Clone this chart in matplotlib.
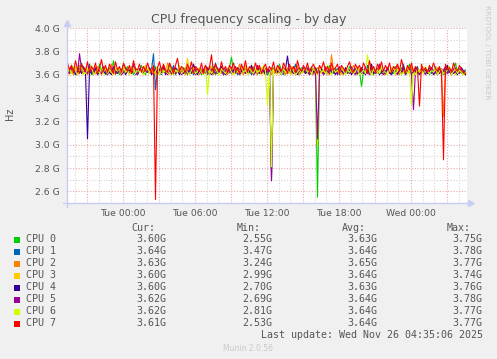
import datetime as dt
import numpy as np
import pandas as pd
import matplotlib
matplotlib.use("Agg")
import matplotlib.pyplot as plt
from matplotlib.patches import Rectangle

# values in GHz, one sample every 10 minutes starting Mon 19:25
cpu0 = [3.64, 3.61, 3.68, 3.62, 3.60, 3.66, 3.63, 3.70, 3.61, 3.64, 3.62, 3.67, 3.60, 3.63, 3.65, 3.61, 3.69, 3.62, 3.64, 3.60,
        3.63, 3.66, 3.61, 3.72, 3.62, 3.64, 3.60, 3.65, 3.63, 3.61, 3.67, 3.62, 3.64, 3.60, 3.66, 3.61, 3.63, 3.68, 3.62, 3.60,
        3.65, 3.62, 3.64, 3.61, 3.67, 3.63, 3.60, 3.66, 3.62, 3.64, 3.61, 3.69, 3.63, 3.60, 3.65, 3.62, 3.64, 3.61, 3.66, 3.63,
        3.60, 3.64, 3.62, 3.68, 3.61, 3.63, 3.65, 3.60, 3.62, 3.66, 3.64, 3.61, 3.63, 3.67, 3.60, 3.62, 3.65, 3.63, 3.61, 3.64,
        3.62, 3.66, 3.75, 3.63, 3.61, 3.64, 3.60, 3.67, 3.62, 3.65, 3.63, 3.61, 3.68, 3.62, 3.64, 3.60, 3.66, 3.63, 3.61, 3.65,
        3.62, 3.60, 3.64, 3.66, 3.61, 3.63, 3.69, 3.62, 3.64, 3.60, 3.65, 3.63, 3.61, 3.67, 3.62, 3.64, 3.60, 3.66, 3.63, 3.61,
        3.64, 3.62, 3.67, 3.60, 3.63, 2.55, 3.61, 3.65, 3.62, 3.64, 3.60, 3.68, 3.63, 3.61, 3.66, 3.62, 3.64, 3.60, 3.65, 3.63,
        3.61, 3.67, 3.62, 3.64, 3.60, 3.66, 3.63, 3.50, 3.62, 3.65, 3.61, 3.63, 3.68, 3.60, 3.64, 3.62, 3.66, 3.61, 3.63, 3.60,
        3.65, 3.62, 3.64, 3.61, 3.67, 3.63, 3.60, 3.66, 3.62, 3.64, 3.61, 3.69, 3.62, 3.63, 3.60, 3.65, 3.62, 3.64, 3.61, 3.66,
        3.63, 3.60, 3.64, 3.62, 3.67, 3.61, 3.63, 3.65, 3.60, 3.62, 3.66, 3.63, 3.61, 3.64, 3.70, 3.62, 3.63, 3.61, 3.62, 3.60]
cpu1 = [3.62, 3.65, 3.61, 3.63, 3.67, 3.60, 3.64, 3.62, 3.66, 3.61, 3.63, 3.69, 3.62, 3.60, 3.65, 3.63, 3.61, 3.64, 3.67, 3.62,
        3.60, 3.64, 3.62, 3.66, 3.61, 3.63, 3.65, 3.60, 3.68, 3.62, 3.64, 3.61, 3.63, 3.66, 3.60, 3.62, 3.65, 3.63, 3.61, 3.67,
        3.63, 3.61, 3.64, 3.78, 3.47, 3.65, 3.62, 3.60, 3.66, 3.63, 3.61, 3.64, 3.62, 3.68, 3.60, 3.63, 3.65, 3.61, 3.62, 3.66,
        3.64, 3.61, 3.63, 3.60, 3.67, 3.62, 3.65, 3.63, 3.61, 3.64, 3.60, 3.66, 3.62, 3.63, 3.70, 3.61, 3.64, 3.62, 3.60, 3.65,
        3.63, 3.61, 3.66, 3.62, 3.64, 3.60, 3.65, 3.63, 3.61, 3.68, 3.62, 3.64, 3.60, 3.66, 3.63, 3.61, 3.65, 3.62, 3.64, 3.61,
        3.60, 3.63, 3.66, 3.62, 3.64, 3.61, 3.67, 3.63, 3.60, 3.65, 3.62, 3.64, 3.61, 3.63, 3.69, 3.62, 3.60, 3.64, 3.66, 3.61,
        3.63, 3.65, 3.62, 3.60, 3.64, 3.61, 3.66, 3.63, 3.62, 3.67, 3.60, 3.64, 3.62, 3.65, 3.61, 3.63, 3.60, 3.66, 3.62, 3.64,
        3.61, 3.63, 3.67, 3.62, 3.60, 3.65, 3.63, 3.61, 3.64, 3.62, 3.68, 3.60, 3.63, 3.65, 3.61, 3.62, 3.66, 3.64, 3.60, 3.63,
        3.65, 3.62, 3.60, 3.64, 3.61, 3.66, 3.63, 3.62, 3.69, 3.60, 3.64, 3.62, 3.65, 3.61, 3.63, 3.67, 3.60, 3.62, 3.64, 3.61,
        3.63, 3.66, 3.61, 3.64, 3.62, 3.60, 3.65, 3.63, 3.61, 3.67, 3.62, 3.64, 3.60, 3.63, 3.65, 3.61, 3.62, 3.66, 3.63, 3.64]
cpu2 = [3.61, 3.66, 3.63, 3.60, 3.65, 3.62, 3.68, 3.61, 3.64, 3.63, 3.60, 3.66, 3.62, 3.64, 3.61, 3.67, 3.63, 3.60, 3.65, 3.62,
        3.64, 3.61, 3.69, 3.63, 3.60, 3.65, 3.62, 3.64, 3.61, 3.66, 3.63, 3.60, 3.67, 3.62, 3.64, 3.61, 3.65, 3.63, 3.60, 3.68,
        3.62, 3.64, 3.61, 3.66, 3.63, 3.60, 3.65, 3.62, 3.64, 3.61, 3.70, 3.63, 3.60, 3.66, 3.62, 3.64, 3.61, 3.65, 3.63, 3.60,
        3.66, 3.62, 3.64, 3.61, 3.67, 3.63, 3.60, 3.65, 3.62, 3.64, 3.61, 3.68, 3.63, 3.60, 3.66, 3.62, 3.64, 3.61, 3.65, 3.63,
        3.60, 3.64, 3.62, 3.66, 3.61, 3.63, 3.69, 3.62, 3.60, 3.65, 3.63, 3.61, 3.64, 3.67, 3.62, 3.60, 3.65, 3.63, 3.61, 3.66,
        3.62, 3.64, 3.60, 3.65, 3.63, 3.61, 3.67, 3.62, 3.64, 3.60, 3.66, 3.63, 3.61, 3.65, 3.62, 3.68, 3.60, 3.64, 3.62, 3.66,
        3.61, 3.63, 3.65, 3.60, 3.62, 3.66, 3.64, 3.61, 3.63, 3.67, 3.62, 3.60, 3.77, 3.64, 3.61, 3.63, 3.66, 3.62, 3.60, 3.65,
        3.63, 3.61, 3.64, 3.68, 3.62, 3.60, 3.65, 3.63, 3.61, 3.66, 3.62, 3.64, 3.60, 3.67, 3.63, 3.61, 3.65, 3.62, 3.64, 3.60,
        3.66, 3.63, 3.61, 3.64, 3.62, 3.69, 3.60, 3.65, 3.63, 3.61, 3.64, 3.62, 3.67, 3.60, 3.63, 3.65, 3.61, 3.62, 3.66, 3.64,
        3.61, 3.63, 3.65, 3.60, 3.62, 3.66, 3.64, 3.61, 3.24, 3.63, 3.67, 3.62, 3.60, 3.65, 3.63, 3.61, 3.64, 3.62, 3.60, 3.63]
cpu3 = [3.63, 3.60, 3.65, 3.62, 3.67, 3.61, 3.64, 3.62, 3.60, 3.66, 3.63, 3.61, 3.68, 3.62, 3.64, 3.60, 3.65, 3.63, 3.61, 3.66,
        3.62, 3.64, 3.60, 3.67, 3.63, 3.61, 3.65, 3.62, 3.64, 3.60, 3.63, 3.66, 3.61, 3.64, 3.62, 3.60, 3.65, 3.63, 3.61, 3.67,
        3.63, 3.61, 3.64, 3.62, 3.60, 3.66, 3.63, 3.61, 3.65, 3.62, 3.68, 3.60, 3.63, 3.64, 3.61, 3.62, 3.66, 3.60, 3.63, 3.65,
        3.74, 3.63, 3.61, 3.62, 3.64, 3.60, 3.66, 3.62, 3.63, 3.61, 3.65, 3.60, 3.67, 3.62, 3.64, 3.61, 3.63, 3.66, 3.60, 3.62,
        3.65, 3.61, 3.63, 3.60, 3.66, 3.62, 3.64, 3.61, 3.63, 3.68, 3.60, 3.62, 3.65, 3.63, 3.61, 3.64, 3.62, 3.66, 3.61, 3.60,
        3.64, 3.62, 3.66, 3.61, 3.63, 3.60, 3.65, 3.62, 3.67, 3.63, 3.61, 3.64, 3.60, 3.62, 3.66, 3.63, 3.61, 3.65, 3.62, 3.64,
        3.61, 3.63, 3.60, 3.66, 3.62, 2.99, 3.64, 3.61, 3.63, 3.65, 3.60, 3.62, 3.67, 3.63, 3.61, 3.64, 3.62, 3.60, 3.66, 3.63,
        3.62, 3.65, 3.61, 3.63, 3.60, 3.67, 3.62, 3.64, 3.61, 3.66, 3.63, 3.60, 3.65, 3.62, 3.64, 3.61, 3.68, 3.63, 3.60, 3.62,
        3.64, 3.61, 3.66, 3.63, 3.60, 3.65, 3.62, 3.64, 3.61, 3.63, 3.67, 3.60, 3.62, 3.65, 3.63, 3.61, 3.64, 3.62, 3.66, 3.60,
        3.63, 3.61, 3.65, 3.62, 3.64, 3.60, 3.66, 3.63, 3.61, 3.62, 3.64, 3.67, 3.61, 3.63, 3.60, 3.65, 3.62, 3.64, 3.61, 3.60]
cpu4 = [3.61, 3.64, 3.62, 3.66, 3.60, 3.63, 3.65, 3.61, 3.67, 3.62, 3.05, 3.64, 3.61, 3.63, 3.66, 3.60, 3.62, 3.65, 3.63, 3.61,
        3.64, 3.62, 3.60, 3.66, 3.63, 3.61, 3.65, 3.62, 3.68, 3.60, 3.63, 3.64, 3.61, 3.66, 3.62, 3.60, 3.65, 3.63, 3.61, 3.64,
        3.62, 3.66, 3.60, 3.63, 3.65, 3.61, 3.64, 3.62, 3.67, 3.60, 3.63, 3.65, 3.61, 3.62, 3.66, 3.64, 3.60, 3.63, 3.61, 3.65,
        3.62, 3.64, 3.61, 3.69, 3.63, 3.60, 3.65, 3.62, 3.64, 3.61, 3.66, 3.63, 3.60, 3.62, 3.65, 3.61, 3.64, 3.67, 3.62, 3.60,
        3.63, 3.65, 3.61, 3.64, 3.62, 3.66, 3.60, 3.63, 3.65, 3.61, 3.64, 3.62, 3.68, 3.60, 3.63, 3.66, 3.61, 3.62, 3.64, 3.60,
        3.65, 3.63, 2.70, 3.61, 3.64, 3.62, 3.66, 3.60, 3.63, 3.65, 3.76, 3.62, 3.64, 3.61, 3.63, 3.60, 3.66, 3.62, 3.65, 3.61,
        3.63, 3.60, 3.64, 3.62, 3.66, 3.61, 3.63, 3.65, 3.60, 3.62, 3.67, 3.64, 3.61, 3.63, 3.60, 3.65, 3.62, 3.64, 3.61, 3.66,
        3.62, 3.64, 3.60, 3.63, 3.65, 3.61, 3.62, 3.66, 3.63, 3.60, 3.64, 3.62, 3.69, 3.61, 3.63, 3.65, 3.60, 3.62, 3.64, 3.61,
        3.66, 3.62, 3.60, 3.64, 3.63, 3.61, 3.65, 3.62, 3.67, 3.60, 3.63, 3.64, 3.61, 3.62, 3.66, 3.63, 3.60, 3.65, 3.62, 3.64,
        3.61, 3.63, 3.66, 3.60, 3.62, 3.64, 3.61, 3.65, 3.63, 3.60, 3.68, 3.62, 3.64, 3.61, 3.63, 3.60, 3.65, 3.62, 3.61, 3.60]
cpu5 = [3.64, 3.61, 3.66, 3.62, 3.63, 3.60, 3.78, 3.65, 3.62, 3.64, 3.61, 3.67, 3.63, 3.60, 3.65, 3.62, 3.64, 3.61, 3.66, 3.63,
        3.60, 3.64, 3.62, 3.67, 3.61, 3.63, 3.65, 3.60, 3.62, 3.66, 3.64, 3.61, 3.63, 3.69, 3.62, 3.60, 3.65, 3.63, 3.61, 3.64,
        3.62, 3.66, 3.63, 3.60, 3.64, 3.61, 3.65, 3.62, 3.67, 3.63, 3.60, 3.64, 3.62, 3.66, 3.61, 3.63, 3.65, 3.60, 3.62, 3.64,
        3.61, 3.63, 3.66, 3.62, 3.60, 3.65, 3.63, 3.61, 3.64, 3.68, 3.62, 3.60, 3.65, 3.63, 3.61, 3.66, 3.62, 3.64, 3.60, 3.63,
        3.65, 3.62, 3.64, 3.61, 3.67, 3.63, 3.60, 3.65, 3.62, 3.64, 3.61, 3.66, 3.63, 3.60, 3.62, 3.68, 3.64, 3.61, 3.63, 3.65,
        3.62, 3.64, 2.69, 3.63, 3.61, 3.65, 3.62, 3.60, 3.66, 3.63, 3.64, 3.61, 3.67, 3.62, 3.60, 3.65, 3.63, 3.61, 3.64, 3.62,
        3.66, 3.60, 3.63, 3.65, 3.61, 3.05, 3.62, 3.64, 3.60, 3.66, 3.63, 3.61, 3.65, 3.62, 3.64, 3.60, 3.67, 3.63, 3.61, 3.62,
        3.64, 3.61, 3.66, 3.63, 3.60, 3.65, 3.62, 3.64, 3.61, 3.67, 3.63, 3.60, 3.62, 3.65, 3.61, 3.64, 3.69, 3.62, 3.60, 3.63,
        3.65, 3.61, 3.63, 3.66, 3.62, 3.60, 3.64, 3.61, 3.65, 3.63, 3.62, 3.66, 3.60, 3.30, 3.64, 3.62, 3.61, 3.65, 3.63, 3.60,
        3.64, 3.62, 3.66, 3.61, 3.63, 3.60, 3.65, 3.62, 3.64, 3.67, 3.61, 3.63, 3.60, 3.65, 3.62, 3.64, 3.61, 3.66, 3.63, 3.62]
cpu6 = [3.62, 3.65, 3.61, 3.67, 3.63, 3.60, 3.64, 3.66, 3.62, 3.61, 3.65, 3.63, 3.68, 3.60, 3.62, 3.64, 3.61, 3.66, 3.63, 3.65,
        3.61, 3.64, 3.62, 3.60, 3.66, 3.63, 3.65, 3.61, 3.67, 3.62, 3.64, 3.60, 3.63, 3.66, 3.61, 3.65, 3.62, 3.64, 3.60, 3.63,
        3.66, 3.62, 3.64, 3.61, 3.63, 3.67, 3.60, 3.65, 3.62, 3.64, 3.61, 3.66, 3.63, 3.60, 3.64, 3.62, 3.68, 3.61, 3.63, 3.65,
        3.62, 3.60, 3.64, 3.66, 3.61, 3.63, 3.65, 3.62, 3.60, 3.67, 3.43, 3.64, 3.61, 3.63, 3.66, 3.62, 3.60, 3.65, 3.63, 3.61,
        3.64, 3.66, 3.62, 3.60, 3.65, 3.63, 3.61, 3.67, 3.62, 3.64, 3.60, 3.66, 3.63, 3.61, 3.65, 3.62, 3.64, 3.60, 3.68, 3.63,
        3.34, 3.62, 2.81, 3.64, 3.61, 3.66, 3.63, 3.60, 3.65, 3.62, 3.64, 3.61, 3.67, 3.63, 3.60, 3.62, 3.65, 3.61, 3.64, 3.66,
        3.62, 3.64, 3.61, 3.65, 3.63, 3.60, 3.66, 3.62, 3.64, 3.61, 3.68, 3.63, 3.60, 3.65, 3.62, 3.64, 3.61, 3.66, 3.63, 3.60,
        3.64, 3.62, 3.65, 3.61, 3.63, 3.66, 3.60, 3.62, 3.64, 3.61, 3.77, 3.63, 3.60, 3.65, 3.62, 3.64, 3.61, 3.67, 3.63, 3.62,
        3.60, 3.64, 3.62, 3.66, 3.61, 3.63, 3.65, 3.60, 3.62, 3.64, 3.61, 3.66, 3.34, 3.63, 3.60, 3.65, 3.62, 3.64, 3.61, 3.67,
        3.63, 3.61, 3.64, 3.62, 3.66, 3.60, 3.63, 3.65, 3.61, 3.62, 3.64, 3.67, 3.60, 3.63, 3.65, 3.61, 3.64, 3.62, 3.60, 3.62]
cpu7 = [3.70, 3.64, 3.68, 3.62, 3.72, 3.65, 3.61, 3.69, 3.66, 3.63, 3.71, 3.62, 3.67, 3.64, 3.70, 3.61, 3.66, 3.73, 3.63, 3.68,
        3.62, 3.69, 3.65, 3.61, 3.71, 3.64, 3.67, 3.62, 3.70, 3.66, 3.63, 3.68, 3.61, 3.72, 3.65, 3.64, 3.69, 3.62, 3.67, 3.63,
        3.70, 3.65, 3.62, 3.68, 2.53, 3.66, 3.71, 3.63, 3.69, 3.64, 3.62, 3.70, 3.66, 3.61, 3.68, 3.74, 3.63, 3.67, 3.65, 3.62,
        3.69, 3.64, 3.71, 3.62, 3.67, 3.65, 3.63, 3.70, 3.61, 3.68, 3.64, 3.66, 3.77, 3.62, 3.69, 3.65, 3.63, 3.71, 3.64, 3.67,
        3.62, 3.68, 3.65, 3.70, 3.63, 3.66, 3.61, 3.69, 3.64, 3.72, 3.62, 3.67, 3.65, 3.63, 3.70, 3.64, 3.68, 3.61, 3.66, 3.69,
        3.63, 3.67, 3.64, 3.71, 3.62, 3.68, 3.65, 3.63, 3.70, 3.66, 3.61, 3.69, 3.64, 3.67, 3.62, 3.72, 3.65, 3.63, 3.68, 3.64,
        3.70, 3.62, 3.66, 3.69, 3.64, 3.61, 3.68, 3.65, 3.71, 3.63, 3.67, 3.62, 3.70, 3.64, 3.66, 3.69, 3.61, 3.68, 3.65, 3.63,
        3.67, 3.71, 3.64, 3.62, 3.69, 3.65, 3.68, 3.63, 3.70, 3.66, 3.61, 3.72, 3.64, 3.67, 3.62, 3.69, 3.65, 3.71, 3.63, 3.68,
        3.64, 3.70, 3.62, 3.67, 3.65, 3.69, 3.63, 3.73, 3.66, 3.61, 3.68, 3.64, 3.70, 3.62, 3.67, 3.65, 3.33, 3.69, 3.63, 3.66,
        3.62, 3.68, 3.64, 3.70, 3.65, 3.63, 3.67, 3.61, 2.87, 3.69, 3.64, 3.66, 3.62, 3.70, 3.65, 3.63, 3.68, 3.64, 3.62, 3.61]

names = ["CPU 0", "CPU 1", "CPU 2", "CPU 3", "CPU 4", "CPU 5", "CPU 6", "CPU 7"]
colors = ["#00cc00", "#0066b3", "#ff8000", "#ffcc00", "#330099", "#990099", "#ccff00", "#ff0000"]
cur = ["3.60G", "3.64G", "3.63G", "3.60G", "3.60G", "3.62G", "3.62G", "3.61G"]
mins = ["2.55G", "3.47G", "3.24G", "2.99G", "2.70G", "2.69G", "2.81G", "2.53G"]
avgs = ["3.63G", "3.64G", "3.65G", "3.64G", "3.63G", "3.64G", "3.64G", "3.64G"]
maxs = ["3.75G", "3.78G", "3.77G", "3.74G", "3.76G", "3.78G", "3.77G", "3.77G"]
yticks = [2.6, 2.8, 3.0, 3.2, 3.4, 3.6, 3.8, 4.0]
xlabels = ["Tue 00:00", "Tue 06:00", "Tue 12:00", "Tue 18:00", "Wed 00:00"]

W, H = 497, 359
txt = "#555555"
fig = plt.figure(figsize=(W / 100, H / 100), dpi=100, facecolor="#f0f0f0")
ax = fig.add_axes([66.5 / W, 1 - 203 / H, 400 / W, 175 / H])
ax.set_facecolor("white")

t0 = dt.datetime(2025, 11, 24, 19, 20)
t1 = dt.datetime(2025, 11, 26, 4, 40)

# grid: hourly minor, 3-hourly major; 0.1G minor, 0.2G major
h = dt.datetime(2025, 11, 24, 20, 0)
while h < t1:
    if h.hour % 3 == 0:
        ax.axvline(h, color="#e8a8a8", lw=0.8, ls=(0, (1, 1.5)), zorder=0.5)
    else:
        ax.axvline(h, color="#d4d4d4", lw=0.8, ls=(0, (1, 1.5)), zorder=0.4)
    h += dt.timedelta(hours=1)
for k in range(26, 41):
    v = k / 10
    if k % 2 == 0:
        ax.axhline(v, color="#e8a8a8", lw=0.8, ls=(0, (1, 1.5)), zorder=0.5)
    else:
        ax.axhline(v, color="#d4d4d4", lw=0.8, ls=(0, (1, 1.5)), zorder=0.4)

series = [cpu0, cpu1, cpu2, cpu3, cpu4, cpu5, cpu6, cpu7]
for vals, c in zip(series, colors):
    times = pd.date_range("2025-11-24 19:25", periods=len(vals), freq="10min")
    ax.plot(times, vals, color=c, lw=0.8, zorder=2)

ax.set_xlim(t0, t1)
ax.set_ylim(2.5, 4.0)
ax.set_yticks(yticks)
ax.set_yticklabels([f"{v:.1f} G" for v in yticks])
ax.set_xticks([dt.datetime(2025, 11, 25, 0) + dt.timedelta(hours=6 * i) for i in range(5)])
ax.set_xticklabels(xlabels)
ax.tick_params(length=0, labelsize=6.7, colors=txt)
ax.tick_params(axis="y", pad=5)
ax.tick_params(axis="x", pad=4)
for s in ax.spines.values():
    s.set_visible(False)

axc = "#c8cdf5"
ax.plot([-0.008, 1.006], [0, 0], color=axc, lw=1, transform=ax.transAxes, clip_on=False, zorder=3)
ax.plot([0, 0], [-0.02, 1.025], color=axc, lw=1, transform=ax.transAxes, clip_on=False, zorder=3)
ax.plot([1.01], [0], marker=">", ms=4, color=axc, transform=ax.transAxes, clip_on=False, zorder=3)
ax.plot([0], [1.03], marker="^", ms=4, color=axc, transform=ax.transAxes, clip_on=False, zorder=3)

fig.text(248.4 / W, 1 - 19 / H, "CPU frequency scaling - by day", ha="center", va="center",
         fontsize=9, color=txt)
fig.text(10.5 / W, 1 - 114 / H, "Hz", rotation=90, ha="center", va="center", fontsize=7, color=txt)
fig.text(487 / W, 1 - 5 / H, "RRDTOOL / TOBI OETIKER", rotation=-90, ha="center", va="top",
         fontsize=5.3, color="#c8c8c8")

# legend block
mono = "DejaVu Sans Mono"
fs = 7.2
hy = 1 - 227.7 / H
for x, lab in zip([131.7, 236.7, 342, 446.7], ["Cur:", "Min:", "Avg:", "Max:"]):
    fig.text(x / W, hy, lab, family=mono, fontsize=fs, color=txt, ha="left", va="center")
for i in range(len(names)):
    y = 1 - (239.5 + 12 * i) / H
    fig.patches.append(Rectangle((14 / W, y - 3 / H), 6 / W, 6 / H, transform=fig.transFigure,
                                 facecolor=colors[i], edgecolor="none"))
    fig.text(26 / W, y, names[i], family=mono, fontsize=fs, color=txt, ha="left", va="center")
    for x, col in zip([166.7, 272.7, 377.7, 482.7], [cur, mins, avgs, maxs]):
        fig.text(x / W, y, col[i], family=mono, fontsize=fs, color=txt, ha="right", va="center")
fig.text(482.7 / W, 1 - 335.3 / H, "Last update: Wed Nov 26 04:35:06 2025", family=mono,
         fontsize=fs, color=txt, ha="right", va="center")
fig.text(248 / W, 1 - 348.3 / H, "Munin 2.0.56", fontsize=5.5, color="#c8c8c8", ha="center", va="center")

fig.savefig("out.png", dpi=100, facecolor=fig.get_facecolor())
